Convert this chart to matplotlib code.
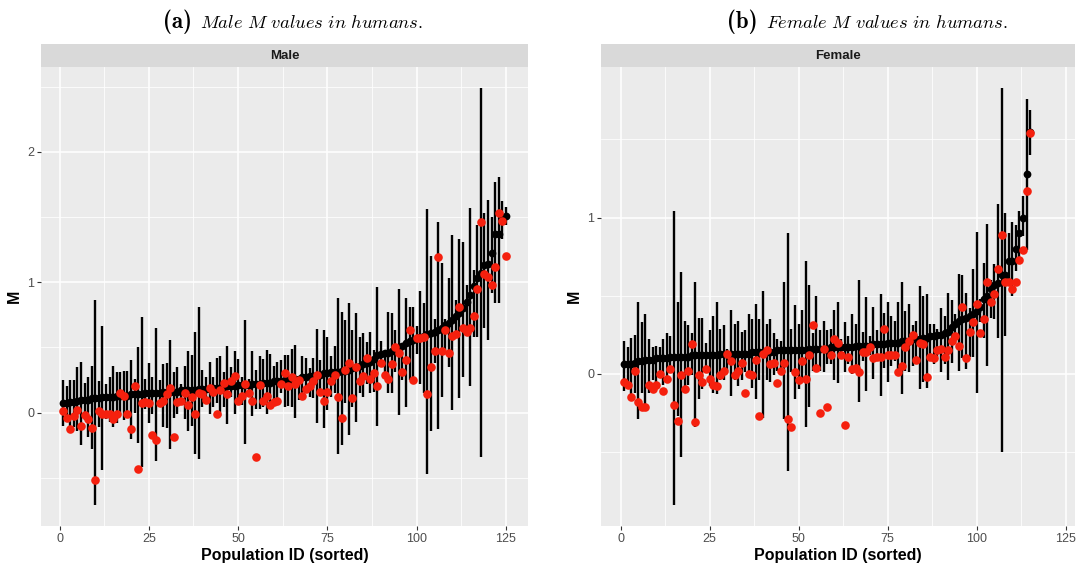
import os
import numpy as np
import matplotlib
matplotlib.use("Agg")
import matplotlib.pyplot as plt
from matplotlib.ticker import MultipleLocator, FormatStrFormatter
from matplotlib.font_manager import FontProperties

plt.rcParams['font.family'] = ['Liberation Sans', 'DejaVu Sans']
plt.rcParams['mathtext.fontset'] = 'cm'

# sorted estimate, interval ends and observed value per population (males)
male_est = [0.07, 0.07, 0.08, 0.08, 0.09, 0.10, 0.10, 0.10, 0.11, 0.11,
            0.11, 0.12, 0.12, 0.12, 0.12, 0.13, 0.13, 0.13, 0.13, 0.14,
            0.14, 0.14, 0.14, 0.15, 0.15, 0.15, 0.15, 0.15, 0.16, 0.16,
            0.16, 0.16, 0.16, 0.17, 0.17, 0.17, 0.17, 0.17, 0.18, 0.18,
            0.18, 0.18, 0.19, 0.19, 0.19, 0.19, 0.20, 0.20, 0.20, 0.21,
            0.21, 0.21, 0.21, 0.22, 0.22, 0.22, 0.23, 0.23, 0.23, 0.24,
            0.24, 0.24, 0.25, 0.25, 0.26, 0.26, 0.26, 0.27, 0.27, 0.28,
            0.28, 0.29, 0.29, 0.30, 0.30, 0.31, 0.31, 0.31, 0.32, 0.32,
            0.33, 0.34, 0.35, 0.36, 0.37, 0.38, 0.39, 0.41, 0.44, 0.45,
            0.46, 0.46, 0.47, 0.48, 0.50, 0.51, 0.53, 0.55, 0.56, 0.57,
            0.58, 0.59, 0.60, 0.61, 0.62, 0.63, 0.65, 0.67, 0.69, 0.71,
            0.74, 0.76, 0.80, 0.85, 0.90, 0.97, 1.03, 1.07, 1.13, 1.14,
            1.22, 1.37, 1.37, 1.50, 1.51]
male_hi = [0.25, 0.20, 0.25, 0.25, 0.35, 0.39, 0.23, 0.27, 0.36, 0.86,
           0.24, 0.66, 0.22, 0.27, 0.36, 0.31, 0.31, 0.32, 0.32, 0.40,
           0.26, 0.50, 0.73, 0.26, 0.38, 0.27, 0.65, 0.25, 0.37, 0.38,
           0.56, 0.31, 0.35, 0.22, 0.36, 0.47, 0.44, 0.62, 0.81, 0.33,
           0.27, 0.39, 0.27, 0.42, 0.43, 0.31, 0.51, 0.35, 0.47, 0.41,
           0.27, 0.71, 0.26, 0.47, 0.33, 0.43, 0.41, 0.48, 0.45, 0.36,
           0.39, 0.40, 0.44, 0.44, 0.49, 0.52, 0.28, 0.43, 0.42, 0.34,
           0.42, 0.64, 0.40, 0.63, 0.58, 0.43, 0.51, 0.88, 0.77, 0.71,
           0.84, 0.63, 0.76, 0.58, 0.61, 0.54, 0.62, 0.48, 0.96, 0.55,
           0.48, 0.77, 0.76, 0.63, 0.95, 0.53, 0.88, 0.81, 0.81, 0.66,
           0.93, 0.84, 1.56, 1.20, 0.72, 1.46, 1.15, 0.72, 1.03, 1.36,
           0.86, 1.33, 1.31, 0.98, 1.57, 1.09, 1.44, 2.49, 1.53, 1.63,
           1.50, 1.77, 1.81, 1.62, 1.58]
male_lo = [-0.10, -0.03, -0.14, -0.11, -0.14, -0.25, -0.06, -0.19, -0.28, -0.71,
           -0.11, -0.44, -0.05, -0.07, -0.11, -0.08, -0.01, -0.06, -0.03, -0.20,
           0.00, -0.23, -0.42, 0.03, -0.08, -0.01, -0.37, 0.05, -0.11, -0.12,
           -0.28, -0.04, -0.01, 0.07, -0.05, -0.14, -0.10, -0.32, -0.36, 0.04,
           0.07, -0.01, 0.04, 0.07, -0.03, 0.04, -0.09, 0.12, -0.01, 0.09,
           0.06, -0.24, 0.12, -0.03, 0.03, 0.03, 0.04, -0.01, 0.07, 0.07,
           0.09, 0.15, 0.04, 0.05, 0.04, -0.04, 0.10, 0.11, 0.17, 0.12,
           0.11, -0.08, 0.15, -0.12, 0.02, 0.12, 0.15, -0.32, -0.25, 0.07,
           -0.17, 0.04, -0.07, 0.15, 0.12, 0.22, 0.15, 0.16, -0.10, 0.35,
           0.27, 0.15, 0.15, 0.31, -0.02, 0.25, 0.04, 0.25, 0.22, 0.45,
           0.22, 0.15, -0.47, -0.14, 0.38, -0.13, 0.12, 0.48, 0.35, 0.02,
           0.62, 0.11, 0.27, 0.62, 0.20, 0.58, 0.58, -0.34, 0.65, 0.56,
           0.92, 0.84, 0.84, 1.33, 1.44]
male_obs = [0.01, -0.04, -0.13, -0.03, 0.02, -0.10, -0.02, -0.05, -0.12, -0.52,
            0.01, -0.01, -0.01, -0.01, -0.05, -0.01, 0.15, 0.13, -0.01, -0.13,
            0.20, -0.43, 0.07, 0.08, 0.07, -0.17, -0.21, 0.07, 0.09, 0.14,
            0.19, -0.19, 0.08, 0.09, 0.15, 0.06, 0.12, -0.01, 0.15, 0.14,
            0.10, 0.19, 0.16, -0.01, 0.17, 0.23, 0.14, 0.24, 0.28, 0.09,
            0.13, 0.22, 0.15, 0.09, -0.34, 0.21, 0.09, 0.13, 0.06, 0.08,
            0.09, 0.22, 0.30, 0.20, 0.27, 0.22, 0.25, 0.13, 0.18, 0.20,
            0.24, 0.29, 0.16, 0.09, 0.16, 0.24, 0.29, 0.12, -0.04, 0.33,
            0.38, 0.11, 0.35, 0.24, 0.28, 0.42, 0.26, 0.30, 0.20, 0.38,
            0.29, 0.26, 0.37, 0.50, 0.46, 0.31, 0.40, 0.63, 0.25, 0.57,
            0.57, 0.58, 0.14, 0.35, 0.47, 1.19, 0.47, 0.63, 0.46, 0.59,
            0.60, 0.81, 0.65, 0.62, 0.65, 0.74, 0.95, 1.46, 1.06, 1.04,
            0.98, 1.12, 1.53, 1.47, 1.20]

# same for females
female_est = [0.06, 0.06, 0.06, 0.07, 0.08, 0.08, 0.09, 0.09, 0.09, 0.10,
              0.10, 0.10, 0.10, 0.11, 0.11, 0.11, 0.11, 0.11, 0.11, 0.12,
              0.12, 0.12, 0.12, 0.12, 0.12, 0.12, 0.12, 0.13, 0.13, 0.13,
              0.13, 0.13, 0.13, 0.13, 0.13, 0.13, 0.14, 0.14, 0.14, 0.14,
              0.14, 0.14, 0.14, 0.15, 0.15, 0.15, 0.15, 0.15, 0.15, 0.15,
              0.15, 0.15, 0.16, 0.16, 0.16, 0.16, 0.16, 0.16, 0.17, 0.17,
              0.17, 0.17, 0.17, 0.17, 0.17, 0.18, 0.18, 0.18, 0.18, 0.18,
              0.19, 0.19, 0.19, 0.19, 0.20, 0.20, 0.20, 0.20, 0.21, 0.21,
              0.21, 0.22, 0.22, 0.22, 0.23, 0.23, 0.24, 0.24, 0.25, 0.25,
              0.26, 0.27, 0.30, 0.32, 0.34, 0.35, 0.36, 0.37, 0.38, 0.40,
              0.43, 0.48, 0.50, 0.54, 0.57, 0.58, 0.63, 0.63, 0.72, 0.72,
              0.80, 0.90, 1.00, 1.28, 1.55]
female_hi = [0.21, 0.17, 0.23, 0.25, 0.46, 0.33, 0.38, 0.22, 0.17, 0.18,
             0.17, 0.22, 0.26, 0.24, 1.04, 0.46, 0.65, 0.34, 0.31, 0.26,
             0.59, 0.36, 0.36, 0.20, 0.28, 0.37, 0.46, 0.29, 0.31, 0.16,
             0.41, 0.32, 0.34, 0.27, 0.28, 0.38, 0.35, 0.45, 0.35, 0.53,
             0.32, 0.35, 0.26, 0.22, 0.21, 0.59, 0.90, 0.29, 0.44, 0.32,
             0.41, 0.72, 0.57, 0.26, 0.50, 0.28, 0.34, 0.28, 0.29, 0.41,
             0.46, 0.22, 0.33, 0.24, 0.38, 0.32, 0.60, 0.27, 0.49, 0.24,
             0.43, 0.28, 0.51, 0.39, 0.46, 0.37, 0.34, 0.46, 0.59, 0.40,
             0.45, 0.31, 0.34, 0.56, 0.50, 0.51, 0.32, 0.32, 0.29, 0.42,
             0.37, 0.52, 0.47, 0.38, 0.64, 0.63, 0.52, 0.42, 0.67, 0.91,
             0.48, 0.71, 0.96, 0.60, 0.70, 1.09, 1.83, 1.03, 0.90, 0.97,
             0.95, 1.04, 1.14, 1.76, 1.69]
female_lo = [-0.11, -0.07, -0.13, -0.12, -0.29, -0.12, -0.23, -0.12, -0.04, -0.06,
             0.02, -0.07, -0.04, 0.03, -0.84, -0.27, -0.53, -0.10, -0.07, -0.01,
             -0.34, -0.16, -0.10, 0.01, -0.08, -0.12, -0.13, -0.04, -0.04, 0.02,
             -0.14, -0.04, -0.08, -0.04, 0.01, -0.01, -0.09, -0.16, -0.04, -0.28,
             -0.04, -0.05, -0.01, 0.02, 0.00, -0.29, -0.62, 0.01, -0.16, -0.10,
             -0.04, -0.34, -0.21, 0.02, 0.01, 0.02, 0.01, 0.06, 0.06, -0.04,
             -0.06, 0.10, 0.01, 0.06, 0.00, 0.04, -0.18, 0.08, -0.11, 0.12,
             -0.03, 0.10, -0.14, 0.04, -0.05, 0.05, 0.08, 0.01, -0.13, 0.02,
             0.01, 0.05, 0.08, -0.10, -0.05, -0.09, 0.09, 0.06, 0.11, 0.01,
             0.06, -0.04, 0.07, 0.19, 0.02, 0.10, 0.03, 0.11, 0.11, -0.12,
             0.33, 0.23, 0.05, 0.36, 0.35, 0.23, -0.50, 0.24, 0.56, 0.50,
             0.66, 0.74, 0.88, 0.79, 1.40]
female_obs = [-0.05, -0.07, -0.15, 0.02, -0.18, -0.21, -0.21, -0.07, -0.10, -0.07,
              0.00, -0.11, -0.03, 0.03, -0.20, -0.30, -0.01, -0.10, 0.02, 0.19,
              -0.31, -0.01, -0.05, 0.03, -0.03, -0.07, -0.08, -0.01, 0.02, 0.13,
              0.08, -0.01, 0.02, 0.07, -0.12, 0.00, -0.01, 0.09, -0.27, 0.13,
              0.15, 0.06, 0.07, -0.06, 0.02, 0.07, -0.29, -0.34, 0.01, -0.04,
              0.08, -0.03, 0.12, 0.31, 0.04, -0.25, 0.16, -0.21, 0.12, 0.22,
              0.20, 0.12, -0.33, 0.11, 0.03, 0.04, 0.01, 0.14, 0.14, 0.17,
              0.10, 0.11, 0.11, 0.29, 0.12, 0.12, 0.12, 0.01, 0.05, 0.17,
              0.21, 0.25, 0.09, 0.20, 0.19, -0.02, 0.11, 0.10, 0.15, 0.16,
              0.11, 0.15, 0.21, 0.24, 0.18, 0.43, 0.10, 0.27, 0.33, 0.45,
              0.26, 0.35, 0.59, 0.46, 0.51, 0.67, 0.89, 0.59, 0.59, 0.54,
              0.59, 0.73, 0.79, 1.17, 1.54]

male_xlim = (-5.2, 131.2)
female_xlim = (-5.5, 127.6)

PANEL_BG = '#EBEBEB'
STRIP_BG = '#D9D9D9'
RED = '#F5200E'

# bold computer modern for the sub-figure labels
cm_bold = FontProperties(fname=os.path.join(matplotlib.get_data_path(), 'fonts', 'ttf', 'cmb10.ttf'),
                         size=16.5)


def draw_panel(ax, strip, est, lo, hi, obs, name, xlim):
    pop = np.arange(1, len(est) + 1)
    ax.vlines(pop, lo, hi, color='black', lw=1.7, zorder=2)
    ax.plot(pop, est, 'o', color='black', ms=5.6, mec='none', zorder=3)
    ax.plot(pop, obs, 'o', color=RED, ms=6.2, mec='none', zorder=4)

    # ggplot style limits: 5% padding around the data
    ymin = min(min(lo), min(obs))
    ymax = max(max(hi), max(obs))
    pad = 0.05 * (ymax - ymin)
    ax.set_ylim(ymin - pad, ymax + pad)
    ax.set_xlim(*xlim)

    ax.set_facecolor(PANEL_BG)
    for s in ax.spines.values():
        s.set_visible(False)
    ax.xaxis.set_major_locator(MultipleLocator(25))
    ax.xaxis.set_minor_locator(MultipleLocator(12.5))
    ax.yaxis.set_major_locator(MultipleLocator(1))
    ax.yaxis.set_minor_locator(MultipleLocator(0.5))
    ax.yaxis.set_major_formatter(FormatStrFormatter('%g'))
    ax.grid(which='major', color='white', lw=1.1)
    ax.grid(which='minor', color='white', lw=0.55)
    ax.set_axisbelow(True)
    ax.tick_params(which='major', length=3, width=0.8, color='#333333',
                   labelcolor='#4D4D4D', labelsize=9, pad=2)
    ax.tick_params(which='minor', length=0)
    ax.set_xlabel('Population ID (sorted)', fontsize=11.5, fontweight='bold', labelpad=2)
    ax.set_ylabel('M', fontsize=11.5, fontweight='bold', labelpad=4)

    # facet strip on top
    strip.set_facecolor(STRIP_BG)
    strip.set_xticks([])
    strip.set_yticks([])
    for s in strip.spines.values():
        s.set_visible(False)
    strip.text(0.5, 0.5, name, ha='center', va='center', fontsize=9.5,
               fontweight='bold', color='#1A1A1A')


fig = plt.figure(figsize=(10.77, 5.66), dpi=100)

ax1 = fig.add_axes([0.0381, 0.0707, 0.4522, 0.8109])
st1 = fig.add_axes([0.0381, 0.8816, 0.4522, 0.0406])
ax2 = fig.add_axes([0.5580, 0.0707, 0.4401, 0.8109])
st2 = fig.add_axes([0.5580, 0.8816, 0.4401, 0.0406])

draw_panel(ax1, st1, male_est, male_lo, male_hi, male_obs, 'Male', male_xlim)
draw_panel(ax2, st2, female_est, female_lo, female_hi, female_obs, 'Female', female_xlim)

# sub-figure captions
fig.text(0.1783, 0.951, '(a)', ha='right', va='baseline', fontproperties=cm_bold)
fig.text(0.1857, 0.951, r'$\mathit{Male\ M\ values\ in\ humans.}$',
         ha='left', va='baseline', fontsize=13.3)
fig.text(0.7038, 0.951, '(b)', ha='right', va='baseline', fontproperties=cm_bold)
fig.text(0.7112, 0.951, r'$\mathit{Female\ M\ values\ in\ humans.}$',
         ha='left', va='baseline', fontsize=13.3)

fig.savefig('out.png', dpi=100)
